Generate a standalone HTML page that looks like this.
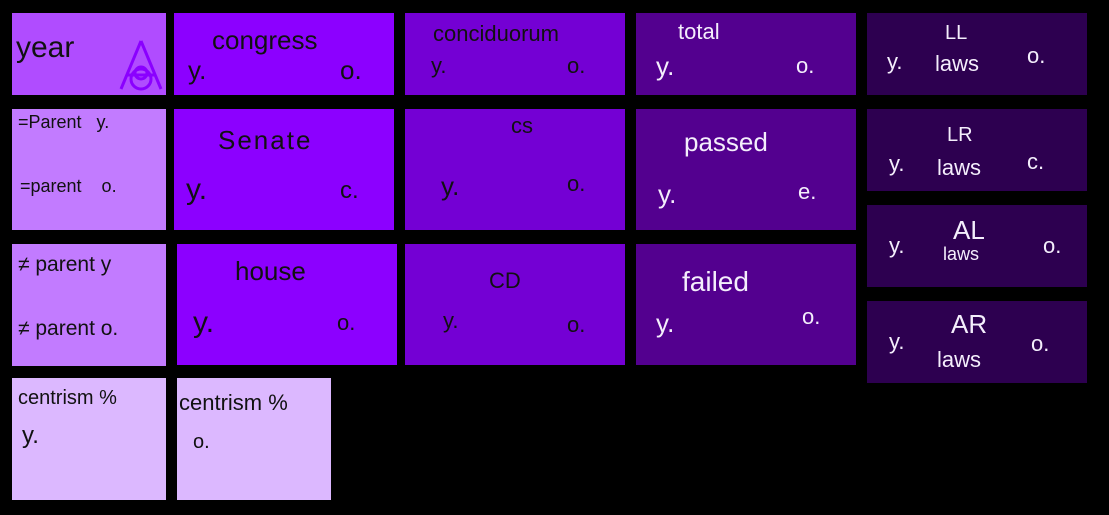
<!DOCTYPE html>
<html><head><meta charset="utf-8">
<style>
html,body{margin:0;padding:0;background:#000;width:1109px;height:515px;overflow:hidden;position:relative;font-family:"Liberation Sans",sans-serif;}
.b{position:absolute;}
.t{position:absolute;font-size:22px;white-space:nowrap;line-height:1;}
.k{color:#111}.w{color:#f4eefc}
</style></head><body>
<div class="b" style="left:12px;top:13px;width:154px;height:82px;background:#b04cff">
 <span class="t k" style="left:4px;top:20px;font-size:30px">year</span>
 <svg style="position:absolute;left:105px;top:24px" width="48" height="56"><g fill="none" stroke="#8a00ff" stroke-width="3"><path d="M24 4 L4 52 M24 4 L44 52 M10 38 H38"/><circle cx="24" cy="42" r="10"/><circle cx="24" cy="36" r="6"/></g></svg>
</div>
<div class="b" style="left:174px;top:13px;width:220px;height:82px;background:#8c00ff">
 <span class="t k" style="left:38px;top:14px;font-size:26px">congress</span>
 <span class="t k" style="left:14px;top:44px;font-size:26px">y.</span><span class="t k" style="left:166px;top:44px;font-size:26px">o.</span>
</div>
<div class="b" style="left:405px;top:13px;width:220px;height:82px;background:#7400d4">
 <span class="t k" style="left:28px;top:10px">conciduorum</span>
 <span class="t k" style="left:26px;top:42px">y.</span><span class="t k" style="left:162px;top:42px">o.</span>
</div>
<div class="b" style="left:636px;top:13px;width:220px;height:82px;background:#53008f">
 <span class="t w" style="left:42px;top:8px">total</span>
 <span class="t w" style="left:20px;top:40px;font-size:26px">y.</span><span class="t w" style="left:160px;top:42px">o.</span>
</div>
<div class="b" style="left:867px;top:13px;width:220px;height:82px;background:#2d0050">
 <span class="t w" style="left:78px;top:10px;font-size:20px">LL</span>
 <span class="t w" style="left:20px;top:38px">y.</span><span class="t w" style="left:68px;top:40px">laws</span><span class="t w" style="left:160px;top:32px">o.</span>
</div>

<div class="b" style="left:12px;top:109px;width:154px;height:121px;background:#c27bff">
 <span class="t k" style="left:6px;top:4px;font-size:18px">=Parent&nbsp;&nbsp;&nbsp;y.</span>
 <span class="t k" style="left:8px;top:68px;font-size:18px">=parent&nbsp;&nbsp;&nbsp;&nbsp;o.</span>
</div>
<div class="b" style="left:174px;top:109px;width:220px;height:121px;background:#8c00ff">
 <span class="t k" style="left:44px;top:18px;font-size:26px;letter-spacing:2px">Senate</span>
 <span class="t k" style="left:12px;top:66px;font-size:30px">y.</span><span class="t k" style="left:166px;top:70px;font-size:24px">c.</span>
</div>
<div class="b" style="left:405px;top:109px;width:220px;height:121px;background:#7400d4">
 <span class="t k" style="left:106px;top:6px">cs</span>
 <span class="t k" style="left:36px;top:64px;font-size:26px">y.</span><span class="t k" style="left:162px;top:64px">o.</span>
</div>
<div class="b" style="left:636px;top:109px;width:220px;height:121px;background:#53008f">
 <span class="t w" style="left:48px;top:20px;font-size:26px">passed</span>
 <span class="t w" style="left:22px;top:72px;font-size:26px">y.</span><span class="t w" style="left:162px;top:72px">e.</span>
</div>
<div class="b" style="left:867px;top:109px;width:220px;height:82px;background:#2d0050">
 <span class="t w" style="left:80px;top:16px;font-size:20px">LR</span>
 <span class="t w" style="left:22px;top:44px">y.</span><span class="t w" style="left:70px;top:48px">laws</span><span class="t w" style="left:160px;top:42px">c.</span>
</div>
<div class="b" style="left:867px;top:205px;width:220px;height:82px;background:#2d0050">
 <span class="t w" style="left:86px;top:12px;font-size:26px">AL</span>
 <span class="t w" style="left:22px;top:30px">y.</span><span class="t w" style="left:76px;top:40px;font-size:18px">laws</span><span class="t w" style="left:176px;top:30px">o.</span>
</div>
<div class="b" style="left:867px;top:301px;width:220px;height:82px;background:#2d0050">
 <span class="t w" style="left:84px;top:10px;font-size:26px">AR</span>
 <span class="t w" style="left:22px;top:30px">y.</span><span class="t w" style="left:70px;top:48px">laws</span><span class="t w" style="left:164px;top:32px">o.</span>
</div>

<div class="b" style="left:12px;top:244px;width:154px;height:122px;background:#c27bff">
 <span class="t k" style="left:6px;top:10px;font-size:21px">≠ parent y</span>
 <span class="t k" style="left:6px;top:74px;font-size:21px">≠ parent o.</span>
</div>
<div class="b" style="left:177px;top:244px;width:220px;height:121px;background:#8c00ff">
 <span class="t k" style="left:58px;top:14px;font-size:26px">house</span>
 <span class="t k" style="left:16px;top:64px;font-size:30px">y.</span><span class="t k" style="left:160px;top:68px">o.</span>
</div>
<div class="b" style="left:405px;top:244px;width:220px;height:121px;background:#7400d4">
 <span class="t k" style="left:84px;top:26px">CD</span>
 <span class="t k" style="left:38px;top:66px">y.</span><span class="t k" style="left:162px;top:70px">o.</span>
</div>
<div class="b" style="left:636px;top:244px;width:220px;height:121px;background:#53008f">
 <span class="t w" style="left:46px;top:24px;font-size:28px">failed</span>
 <span class="t w" style="left:20px;top:66px;font-size:26px">y.</span><span class="t w" style="left:166px;top:62px">o.</span>
</div>

<div class="b" style="left:12px;top:378px;width:154px;height:122px;background:#dcb8ff">
 <span class="t k" style="left:6px;top:10px;font-size:20px">centrism %</span>
 <span class="t k" style="left:10px;top:46px;font-size:24px">y.</span>
</div>
<div class="b" style="left:177px;top:378px;width:154px;height:122px;background:#dcb8ff">
 <span class="t k" style="left:2px;top:14px;font-size:22px">centrism %</span>
 <span class="t k" style="left:16px;top:54px;font-size:20px">o.</span>
</div>
</body></html>
